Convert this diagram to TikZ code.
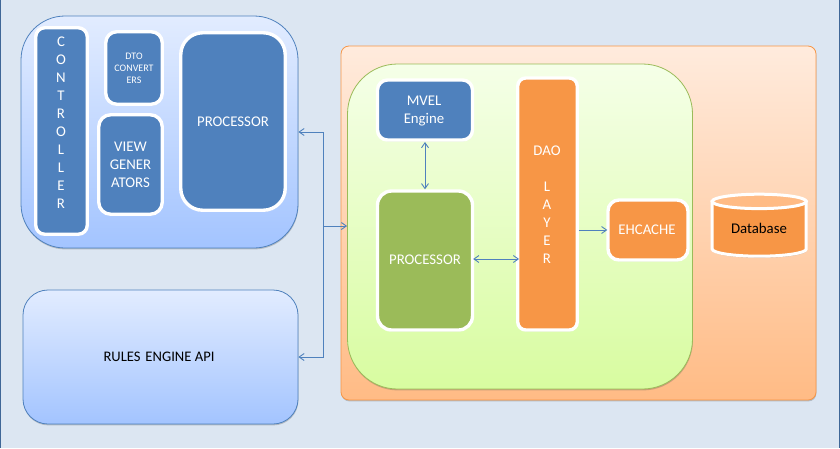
\documentclass[tikz,border=0pt]{standalone}
\usepackage{fontspec}
\setmainfont{Carlito}
\usetikzlibrary{shadows,arrows.meta}
\definecolor{pagebg}{HTML}{DCE6F2}
\definecolor{edgeblue}{HTML}{4F81BD}
\definecolor{edgedark}{HTML}{3F6797}
\definecolor{innerblue}{HTML}{4F81BD}
\definecolor{innergreen}{HTML}{9BBB59}
\definecolor{innerorange}{HTML}{F79646}
\definecolor{bluetop}{HTML}{E2ECFF}
\definecolor{bluebot}{HTML}{A3C4FF}
\definecolor{orangetop}{HTML}{FFEBDD}
\definecolor{orangebot}{HTML}{FFBB85}
\definecolor{greentop}{HTML}{F5FFE8}
\definecolor{greenbot}{HTML}{D8FCA0}
\newcommand{\fs}[1]{\fontsize{#1}{18}\selectfont}
\tikzset{
  softshadow/.style={drop shadow={shadow xshift=0.4pt,shadow yshift=-1.4pt,opacity=.28,fill=black!70}},
  panel/.style={rectangle,draw=edgeblue,line width=.8pt,softshadow,inner sep=0pt},
  bluepanel/.style={panel,top color=bluetop,bottom color=bluebot},
  orangepanel/.style={panel,draw=innerorange,top color=orangetop,bottom color=orangebot},
  greenpanel/.style={panel,draw=innergreen,top color=greentop,bottom color=greenbot},
  card/.style={rectangle,draw=white,line width=3.4pt,softshadow,text=white,align=center,inner sep=0pt,font=\fs{14.8}},
  bluecard/.style={card,fill=innerblue},
  greencard/.style={card,fill=innergreen},
  orangecard/.style={card,fill=innerorange},
  cardtext/.style={text=white,align=center,inner sep=0pt,font=\fs{14.8}},
  link/.style={draw=edgeblue,line width=.9pt,-{Straight Barb[length=5pt,width=7pt]}},
  dlink/.style={draw=edgeblue,line width=.9pt,{Straight Barb[length=5pt,width=7pt]}-{Straight Barb[length=5pt,width=7pt]}}
}
\begin{document}
\begin{tikzpicture}[x=1pt,y=-1pt]
\useasboundingbox (0,0) rectangle (840,448);
\fill[pagebg] (0,0) rectangle (840,448);
\fill[edgedark] (0,0) rectangle (1,448);
\fill[edgedark] (839,0) rectangle (840,448);
% left upper panel
\node[bluepanel,rounded corners=44pt,minimum width=277pt,minimum height=232pt] (clientpanel) at (159.5,132) {};
\node[bluecard,rounded corners=9pt,minimum width=51.5pt,minimum height=206.5pt] (controller) at (61.5,131) {};
\node[cardtext] (controllertext) at (61,123) {C\\O\\N\\T\\R\\O\\L\\L\\E\\R};
\node[bluecard,rounded corners=11pt,minimum width=56.5pt,minimum height=72.5pt,font=\fontsize{10}{12}\selectfont] (dto) at (134,68) {DTO\\CONVERT\\ERS};
\node[bluecard,rounded corners=12pt,minimum width=63.5pt,minimum height=99.5pt] (view) at (130.5,164.5) {VIEW\\GENER\\ATORS};
\node[bluecard,rounded corners=22pt,minimum width=104.5pt,minimum height=177.5pt] (procleft) at (233,121.5) {PROCESSOR};
% rules engine panel
\node[bluepanel,rounded corners=25pt,minimum width=275pt,minimum height=134pt] (api) at (160.5,357) {};
\node[inner sep=0pt,text=black,font=\fs{14.6}] (apitext) at (159,357) {RULES\,\,ENGINE API};
% right panel
\node[orangepanel,rounded corners=8pt,minimum width=475pt,minimum height=354pt] (serverpanel) at (578.5,223) {};
\node[greenpanel,rounded corners=50pt,minimum width=345pt,minimum height=325pt] (enginepanel) at (520,226.5) {};
\node[bluecard,rounded corners=10pt,minimum width=95pt,minimum height=60pt] (mvel) at (425,110) {};
\node[cardtext] (mveltext) at (424,111) {MVEL\\Engine};
\node[greencard,rounded corners=14pt,minimum width=95pt,minimum height=139pt] (procright) at (425,260.5) {};
\node[cardtext] (procrighttext) at (425,260) {PROCESSOR};
\node[orangecard,rounded corners=8pt,minimum width=59.5pt,minimum height=252pt] (dao) at (547.5,204) {};
\node[cardtext] (daotext) at (547,205) {DAO\\ \\L\\A\\Y\\E\\R};
\node[orangecard,rounded corners=11pt,minimum width=80pt,minimum height=60pt] (ehcache) at (648,230) {};
\node[cardtext] (ehcachetext) at (647,229.5) {EHCACHE};
% database cylinder
\path[fill=black!70,opacity=.28,shift={(0.4,1.6)}] (712.2,201.4) -- (712.2,249) arc[x radius=47,y radius=-7.2,start angle=180,end angle=360] -- (806.2,201.4) -- cycle;
\draw[draw=white,line width=3pt,fill=innerorange] (712.2,201.4) -- (712.2,249) arc[x radius=47,y radius=-7.2,start angle=180,end angle=360] -- (806.2,201.4) -- cycle;
\draw[draw=white,line width=3pt,fill=orangebot] (759.2,201.4) ellipse[x radius=47,y radius=7.2];
\node[inner sep=0pt,text=black,font=\fs{14.8}] (database) at (759,228) {Database};
% connectors
\coordinate (bus) at (323,226);
\draw[link] (bus) -- (enginepanel.west |- bus);
\draw[link] (bus) -- (bus |- 0,132) -- (clientpanel.east |- 0,132);
\draw[link] (bus) -- (bus |- 0,357) -- (api.east |- 0,357);
\draw[dlink] (mvel.south |- 0,142) -- (procright.north);
\draw[dlink] ([xshift=-1pt]procright.east |- 0,259) -- ([xshift=3pt]dao.west |- 0,259);
\draw[link] (dao.east |- ehcache) -- ([xshift=1pt]ehcache.west);
\end{tikzpicture}
\end{document}
